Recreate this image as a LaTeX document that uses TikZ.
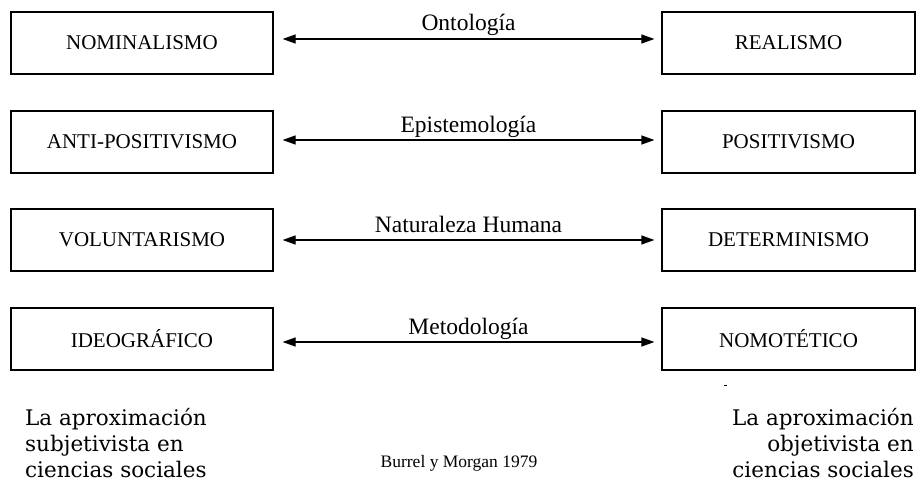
\documentclass[tikz,border=0pt]{standalone}
\usepackage{fontspec}
\setmainfont{Liberation Serif}
\newfontfamily\notefont{DejaVu Serif}
\usetikzlibrary{arrows.meta}

\tikzset{
  termbox/.style={draw, line width=1.2pt, minimum width=#1, minimum height=62pt,
    inner sep=0pt, font=\fontsize{21}{24}\selectfont},
  termbox/.default=262pt,
  biarrow/.style={line width=1.2pt,
    {Triangle[length=13pt,width=9pt]}-{Triangle[length=13pt,width=9pt]}},
  dimlabel/.style={anchor=base, inner sep=0pt, font=\fontsize{23.5}{26}\selectfont},
  approach/.style={inner sep=0pt, font=\notefont\fontsize{21.5}{26}\selectfont},
}

\begin{document}
\begin{tikzpicture}[x=1pt, y=-1pt]
\useasboundingbox (0,0) rectangle (917,487);

% subjective pole (left column)
\node[termbox] (L1) at (142,43)  {NOMINALISMO};
\node[termbox] (L2) at (142,142) {ANTI-POSITIVISMO};
\node[termbox] (L3) at (142,240) {VOLUNTARISMO};
\node[termbox] (L4) at (142,339) {IDEOGRÁFICO};

% objective pole (right column)
\node[termbox=253pt] (R1) at (788.5,43)  {REALISMO};
\node[termbox=253pt] (R2) at (788.5,142) {POSITIVISMO};
\node[termbox=253pt] (R3) at (788.5,240) {DETERMINISMO};
\node[termbox=253pt] (R4) at (788.5,339) {NOMOTÉTICO};

% the four dimensions joining the poles
\draw[biarrow] ([xshift=9pt,yshift=4pt]L1.east) -- ([xshift=-7pt,yshift=4pt]R1.west)
  node[dimlabel, pos=0.5, yshift=8pt] (d1) {Ontología};
\draw[biarrow] ([xshift=9pt,yshift=2pt]L2.east) -- ([xshift=-7pt,yshift=2pt]R2.west)
  node[dimlabel, pos=0.5, yshift=8pt] (d2) {Epistemología};
\draw[biarrow] ([xshift=9pt]L3.east) -- ([xshift=-7pt]R3.west)
  node[dimlabel, pos=0.5, yshift=8pt] (d3) {Naturaleza Humana};
\draw[biarrow] ([xshift=9pt,yshift=-3pt]L4.east) -- ([xshift=-7pt,yshift=-3pt]R4.west)
  node[dimlabel, pos=0.5, yshift=8pt] (d4) {Metodología};

% small stray mark below the last right box
\draw[line width=1pt] (724,385) -- (727,385);

% the two approaches (anchored on the baseline of their last line)
\node[approach, anchor=base west, align=left] (subj) at (25,477)
  {La aproximación\\subjetivista en\\ciencias sociales};
\node[approach, anchor=base east, align=right] (obj) at (914,477)
  {La aproximación\\objetivista en\\ciencias sociales};

% source
\node[anchor=base, inner sep=0pt, font=\fontsize{17.5}{19}\selectfont] (src) at (459,467)
  {Burrel y Morgan 1979};
\end{tikzpicture}
\end{document}
